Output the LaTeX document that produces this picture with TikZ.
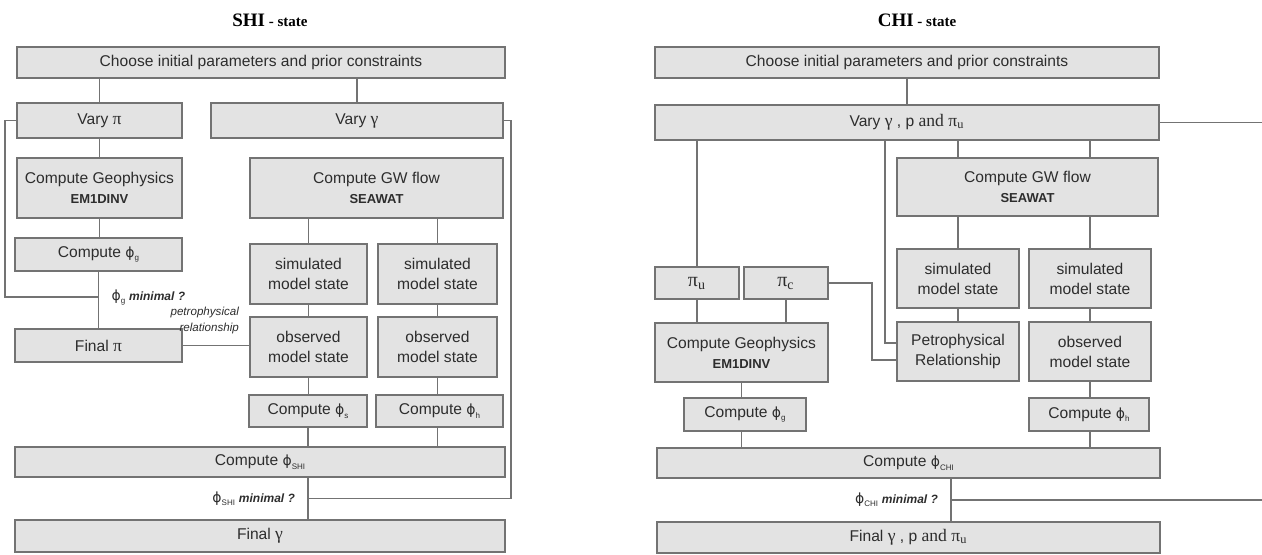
\documentclass[tikz,border=0pt]{standalone}
\usepackage{fontspec}
\setmainfont{Liberation Sans}
\newfontfamily\timesfont{Liberation Serif}
\newfontfamily\phifont{DejaVu Sans}
\usetikzlibrary{calc}
\definecolor{boxgray}{RGB}{227,227,227}
\definecolor{linegray}{RGB}{115,115,115}
\definecolor{textgray}{RGB}{45,45,45}
\newcommand{\lowidx}[1]{\raisebox{-0.4ex}{\fontsize{4}{4}\selectfont #1}}
\newcommand{\progname}[1]{{\fontsize{6.5}{7}\selectfont\bfseries #1}}
\newcommand{\tgreek}[1]{{\timesfont\fontsize{8.8}{10}\selectfont #1}}
\newcommand{\phisym}{{\phifont\fontsize{7}{8}\selectfont ϕ}}

\begin{document}
\begin{tikzpicture}[x=0.5pt, y=-0.5pt,
    box/.style={draw=linegray, fill=boxgray, line width=0.7pt, inner sep=0pt, outer sep=0pt,
                align=center, text=textgray, font=\fontsize{7.8}{10}\selectfont},
    boxsize/.style 2 args={minimum width=#1*0.5pt, minimum height=#2*0.5pt},
    link/.style={draw=linegray, line width=0.75pt},
    query/.style={text=textgray, font=\fontsize{7}{8}\selectfont},
    title/.style={text=black, font=\timesfont\bfseries}]
    \useasboundingbox[fill=white] (0,0) rectangle (1262,554);

    % SHI - state
    \node[title] (titleL) at (270,20) {\fontsize{9.5}{10}\selectfont SHI\fontsize{7.5}{9}\selectfont\ - state};
    \node[box, boxsize={488}{31}] (topL)     at (261,62.5)  {Choose initial parameters and prior constraints};
    \node[box, boxsize={165}{35}] (varyPi)   at (99.5,120.5) {Vary \tgreek{π}};
    \node[box, boxsize={292}{35}] (varyGam)  at (357,120.5) {Vary \tgreek{γ}};
    \node[box, boxsize={165}{60}] (geoL)     at (99.5,188)  {Compute Geophysics\\\progname{EM1DINV}};
    \node[box, boxsize={167}{33}] (phigL)    at (98.5,254.5) {Compute \phisym\lowidx{g}};
    \node[box, boxsize={167}{33}] (finalPi)  at (98.5,345.5) {Final \tgreek{π}};
    \node[box, boxsize={253}{60}] (gwL)      at (376.5,188) {Compute GW flow\\\progname{SEAWAT}};
    \node[box, boxsize={117}{60}] (simL)     at (308.5,274) {simulated\\model state};
    \node[box, boxsize={119}{60}] (simLb)    at (437.5,274) {simulated\\model state};
    \node[box, boxsize={117}{60}] (obsL)     at (308.5,347) {observed\\model state};
    \node[box, boxsize={119}{60}] (obsLb)    at (437.5,347) {observed\\model state};
    \node[box, boxsize={118}{32}] (phisL)    at (308,411)   {Compute \phisym\lowidx{s}};
    \node[box, boxsize={127}{32}] (phihL)    at (439.5,411) {Compute \phisym\lowidx{h}};
    \node[box, boxsize={490}{30}] (phiSHI)   at (260,462)   {Compute \phisym\lowidx{SHI}};
    \node[box, boxsize={490}{32}] (finalGam) at (260,536)   {Final \tgreek{γ}};

    \draw[link] (topL.south -| varyPi) -- (varyPi.north);
    \draw[link] (topL.south -| varyGam) -- (varyGam.north);
    \draw[link] (varyPi.south) -- (geoL.north);
    \draw[link] (geoL.south) -- (geoL.south |- phigL.north);
    \draw[link] (phigL.south) -- (finalPi.north);
    \coordinate (decL) at ($(phigL.south)!0.45!(finalPi.north)$);
    \draw[link] (varyPi.west) -- ++(-12,0) |- (decL);
    \node[query, anchor=west] (queryL) at ($(decL)+(6,0)$) {\phisym\lowidx{g} {\fontsize{6}{7}\selectfont\bfseries\itshape minimal ?}};
    \draw[link] (finalPi.east) -- (finalPi.east -| obsL.west);
    \node[anchor=south east, align=right, text=textgray, font=\fontsize{5.8}{8}\selectfont\itshape]
        (petroNote) at ($(obsL.west)+(-4,-6)$) {petrophysical\\relationship};
    \draw[link] (gwL.south -| simL) -- (simL.north);
    \draw[link] (gwL.south -| simLb) -- (simLb.north);
    \draw[link] (simL.south) -- (obsL.north);
    \draw[link] (simLb.south) -- (obsLb.north);
    \draw[link] (obsL.south) -- (obsL.south |- phisL.north);
    \draw[link] (obsLb.south) -- (obsLb.south |- phihL.north);
    \draw[link] (phisL.south) -- (phisL.south |- phiSHI.north);
    \draw[link] (phihL.south -| obsLb) -- (phiSHI.north -| obsLb);
    \draw[link] (phiSHI.south -| phisL) -- (finalGam.north -| phisL);
    \coordinate (decR) at ($(phiSHI.south -| phisL)!0.5!(finalGam.north -| phisL)$);
    \draw[link] (varyGam.east) -- ++(8,0) |- (decR);
    \node[query, anchor=east] (queryR) at ($(decR)+(-6,0)$) {\phisym\lowidx{SHI} {\fontsize{6}{7}\selectfont\bfseries\itshape minimal ?}};

    % CHI - state
    \node[title] (titleR) at (917,20) {\fontsize{9.5}{10}\selectfont CHI\fontsize{7.5}{9}\selectfont\ - state};
    \node[box, boxsize={504}{31}] (topR)   at (907,62.5)   {Choose initial parameters and prior constraints};
    \node[box, boxsize={504}{35}] (varyR)  at (907,122.5)  {Vary \tgreek{γ} , p \tgreek{and π\textsubscript{u}}};
    \node[box, boxsize={261}{58}] (gwR)    at (1027.5,187) {Compute GW flow\\\progname{SEAWAT}};
    \node[box, boxsize={84}{32}]  (piU)    at (697,283)    {\tgreek{\fontsize{10}{11}\selectfont π\textsubscript{u}}};
    \node[box, boxsize={84}{32}]  (piC)    at (786,283)    {\tgreek{\fontsize{10}{11}\selectfont π\textsubscript{c}}};
    \node[box, boxsize={173}{59}] (geoR)   at (741.5,352.5) {Compute Geophysics\\\progname{EM1DINV}};
    \node[box, boxsize={122}{59}] (simR)   at (958,278.5)  {simulated\\model state};
    \node[box, boxsize={122}{59}] (simRb)  at (1090,278.5) {simulated\\model state};
    \node[box, boxsize={122}{59}] (petro)  at (958,351.5)  {Petrophysical\\Relationship};
    \node[box, boxsize={122}{59}] (obsR)   at (1090,351.5) {observed\\model state};
    \node[box, boxsize={122}{33}] (phigR)  at (745,414.5)  {Compute \phisym\lowidx{g}};
    \node[box, boxsize={120}{33}] (phihR)  at (1089,414.5) {Compute \phisym\lowidx{h}};
    \node[box, boxsize={503}{30}] (phiCHI) at (908.5,463)  {Compute \phisym\lowidx{CHI}};
    \node[box, boxsize={503}{31}] (finalR) at (908.5,537.5) {Final \tgreek{γ} , p \tgreek{and π\textsubscript{u}}};

    \draw[link] (topR.south) -- (varyR.north);
    \draw[link] (varyR.south -| piU) -- (piU.north);
    \coordinate (petroIn) at ($(petro.west)+(-12,-8.5)$);
    \draw[link] (varyR.south -| petroIn) |- ($(petro.west)+(0,-8.5)$);
    \draw[link] (piC.east) -- ++(44,0) |- ($(petro.west)+(0,8.5)$);
    \draw[link] (varyR.south -| simR) -- (gwR.north -| simR);
    \draw[link] (varyR.south -| simRb) -- (gwR.north -| simRb);
    \draw[link] (gwR.south -| simR) -- (simR.north);
    \draw[link] (gwR.south -| simRb) -- (simRb.north);
    \draw[link] (simR.south) -- (petro.north);
    \draw[link] (simRb.south) -- (obsR.north);
    \draw[link] (piU.south) -- (piU.south |- geoR.north);
    \draw[link] (piC.south) -- (piC.south |- geoR.north);
    \draw[link] (geoR.south) -- (geoR.south |- phigR.north);
    \draw[link] (phigR.south -| geoR) -- (phiCHI.north -| geoR);
    \draw[link] (obsR.south) -- (obsR.south |- phihR.north);
    \draw[link] (phihR.south -| obsR) -- (phiCHI.north -| obsR);
    \coordinate (decC) at ($(phiCHI.south)!0.5!(finalR.north)+(42.5,0)$);
    \coordinate (edgeR) at (1262,0);
    \draw[link] (phiCHI.south -| decC) -- (finalR.north -| decC);
    \draw[link] (decC) -- (decC -| edgeR);
    \draw[link] (varyR.east) -- (varyR.east -| edgeR);
    \node[query, anchor=east] (queryC) at ($(decC)+(-6,0)$) {\phisym\lowidx{CHI} {\fontsize{6}{7}\selectfont\bfseries\itshape minimal ?}};
\end{tikzpicture}
\end{document}
